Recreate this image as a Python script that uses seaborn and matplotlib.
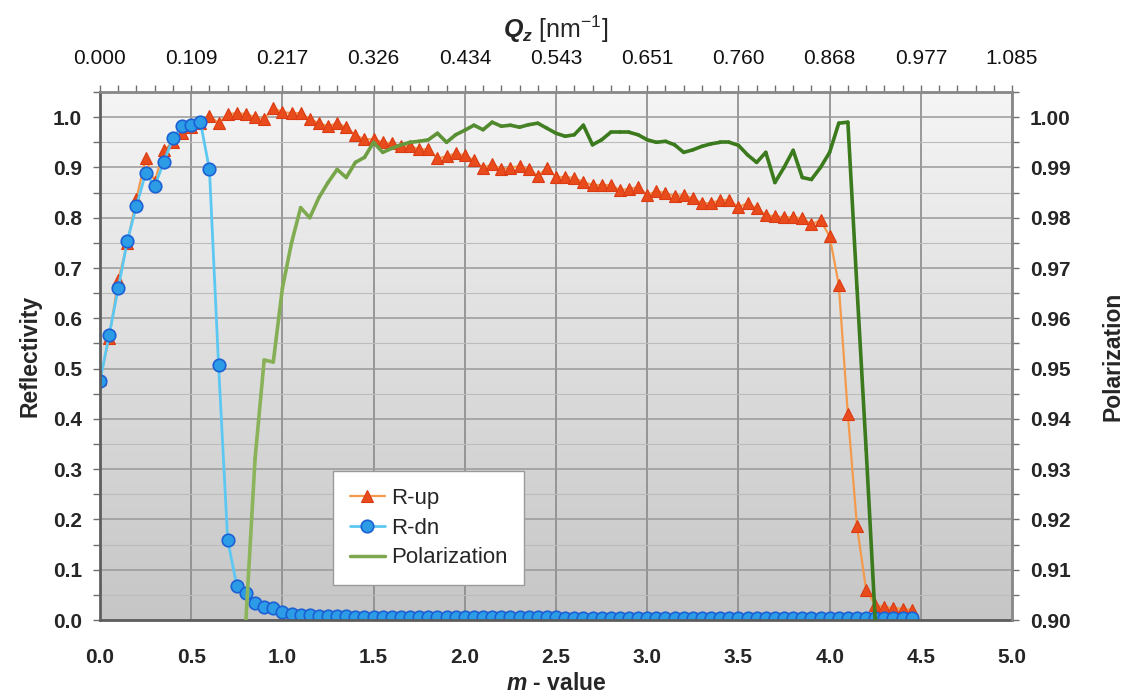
import numpy as np
import matplotlib
matplotlib.use("Agg")
import matplotlib.pyplot as plt
from matplotlib.collections import LineCollection
from matplotlib.colors import LinearSegmentedColormap
from matplotlib.lines import Line2D
from matplotlib.ticker import MultipleLocator
import seaborn as sns

# m-value grid (step 0.05)
m_values = [
    0.00, 0.05, 0.10, 0.15, 0.20, 0.25, 0.30, 0.35, 0.40, 0.45,
    0.50, 0.55, 0.60, 0.65, 0.70, 0.75, 0.80, 0.85, 0.90, 0.95,
    1.00, 1.05, 1.10, 1.15, 1.20, 1.25, 1.30, 1.35, 1.40, 1.45,
    1.50, 1.55, 1.60, 1.65, 1.70, 1.75, 1.80, 1.85, 1.90, 1.95,
    2.00, 2.05, 2.10, 2.15, 2.20, 2.25, 2.30, 2.35, 2.40, 2.45,
    2.50, 2.55, 2.60, 2.65, 2.70, 2.75, 2.80, 2.85, 2.90, 2.95,
    3.00, 3.05, 3.10, 3.15, 3.20, 3.25, 3.30, 3.35, 3.40, 3.45,
    3.50, 3.55, 3.60, 3.65, 3.70, 3.75, 3.80, 3.85, 3.90, 3.95,
    4.00, 4.05, 4.10, 4.15, 4.20, 4.25, 4.30, 4.35, 4.40, 4.45,
]

r_up = [
    0.480, 0.560, 0.676, 0.750, 0.838, 0.918, 0.872, 0.934, 0.950, 0.968,
    0.980, 0.988, 1.003, 0.988, 1.006, 1.008, 1.006, 1.000, 0.996, 1.018,
    1.010, 1.008, 1.008, 0.996, 0.988, 0.982, 0.988, 0.980, 0.964, 0.956,
    0.956, 0.950, 0.948, 0.942, 0.942, 0.936, 0.936, 0.918, 0.922, 0.928,
    0.924, 0.914, 0.899, 0.906, 0.897, 0.899, 0.903, 0.897, 0.883, 0.899,
    0.881, 0.881, 0.879, 0.871, 0.865, 0.865, 0.865, 0.855, 0.857, 0.861,
    0.845, 0.853, 0.849, 0.843, 0.845, 0.839, 0.829, 0.829, 0.835, 0.835,
    0.821, 0.829, 0.819, 0.805, 0.803, 0.801, 0.801, 0.799, 0.787, 0.795,
    0.763, 0.667, 0.409, 0.186, 0.060, 0.030, 0.026, 0.024, 0.022, 0.020,
]

r_dn = [
    0.475, 0.566, 0.660, 0.754, 0.824, 0.888, 0.863, 0.911, 0.958, 0.982,
    0.985, 0.991, 0.896, 0.507, 0.159, 0.068, 0.054, 0.034, 0.025, 0.024,
    0.015, 0.012, 0.010, 0.009, 0.008, 0.008, 0.007, 0.007, 0.006, 0.006,
    0.006, 0.006, 0.005, 0.005, 0.005, 0.005, 0.005, 0.005, 0.005, 0.005,
    0.005, 0.005, 0.005, 0.005, 0.005, 0.005, 0.005, 0.005, 0.005, 0.005,
    0.005, 0.004, 0.004, 0.004, 0.004, 0.004, 0.004, 0.004, 0.004, 0.004,
    0.004, 0.004, 0.004, 0.004, 0.004, 0.004, 0.004, 0.004, 0.004, 0.004,
    0.004, 0.004, 0.004, 0.004, 0.004, 0.004, 0.004, 0.004, 0.004, 0.004,
    0.004, 0.004, 0.004, 0.004, 0.004, 0.004, 0.004, 0.004, 0.004, 0.004,
]

# polarization is drawn from m = 0.80 to 4.25
m_pol = m_values[16:86]
polarization = [
    0.9000, 0.9320, 0.9517, 0.9513, 0.9660, 0.9750, 0.9820, 0.9800, 0.9840, 0.9870,
    0.9896, 0.9880, 0.9910, 0.9920, 0.9950, 0.9930, 0.9938, 0.9945, 0.9950, 0.9952,
    0.9955, 0.9968, 0.9950, 0.9965, 0.9974, 0.9984, 0.9975, 0.9990, 0.9982, 0.9984,
    0.9980, 0.9985, 0.9988, 0.9978, 0.9968, 0.9962, 0.9965, 0.9984, 0.9945, 0.9955,
    0.9970, 0.9970, 0.9970, 0.9965, 0.9955, 0.9950, 0.9952, 0.9945, 0.9930, 0.9935,
    0.9942, 0.9947, 0.9950, 0.9950, 0.9944, 0.9925, 0.9910, 0.9930, 0.9870, 0.9900,
    0.9934, 0.9880, 0.9876, 0.9900, 0.9930, 0.9988, 0.9990, 0.9660, 0.9340, 0.9000,
]

x_ticks = [0.0, 0.5, 1.0, 1.5, 2.0, 2.5, 3.0, 3.5, 4.0, 4.5, 5.0]
x_labels = ["0.0", "0.5", "1.0", "1.5", "2.0", "2.5", "3.0", "3.5", "4.0", "4.5", "5.0"]
qz_labels = ["0.000", "0.109", "0.217", "0.326", "0.434", "0.543",
             "0.651", "0.760", "0.868", "0.977", "1.085"]
refl_ticks = [0.0, 0.1, 0.2, 0.3, 0.4, 0.5, 0.6, 0.7, 0.8, 0.9, 1.0]
pol_ticks = [0.90, 0.91, 0.92, 0.93, 0.94, 0.95, 0.96, 0.97, 0.98, 0.99, 1.00]

sns.set_theme(style="white")
plt.rcParams["font.family"] = ["Liberation Sans", "DejaVu Sans"]
plt.rcParams["mathtext.fontset"] = "custom"
plt.rcParams["mathtext.it"] = "Liberation Sans:italic:bold"
plt.rcParams["mathtext.rm"] = "Liberation Sans"
plt.rcParams["mathtext.bf"] = "Liberation Sans:bold"

fig = plt.figure(figsize=(11.26, 6.95), dpi=100)
fig.patch.set_facecolor("white")
pos = [0.0888, 0.1079, 0.8100, 0.7597]

# gray gradient behind the plot
bg = fig.add_axes(pos, zorder=0)
shade = np.linspace(1, 0, 256).reshape(-1, 1)
bg.imshow(shade, cmap=LinearSegmentedColormap.from_list("bg", ["#c6c6c6", "#f5f5f5"]),
          aspect="auto", extent=[0, 1, 0, 1])
bg.axis("off")

ax = fig.add_axes(pos, zorder=1)
ax.patch.set_visible(False)

sns.lineplot(x=m_values, y=r_up, ax=ax, color="#f39a4c", lw=1.6, marker="^",
             markersize=8.5, markerfacecolor="#e84c1c", markeredgecolor="#dc3a12",
             markeredgewidth=0.8, label="R-up", legend=False)
sns.lineplot(x=m_values, y=r_dn, ax=ax, color="#5cc8f2", lw=2.0, marker="o",
             markersize=9, markerfacecolor="#2c9ce6", markeredgecolor="#1b60d4",
             markeredgewidth=1.2, label="R-dn", legend=False)

ax.set_xlim(0, 5)
ax.set_ylim(0, 1.05)
ax.set_xticks(x_ticks, labels=x_labels, fontsize=15, fontweight="bold")
ax.set_yticks(refl_ticks, labels=[f"{v:.1f}" for v in refl_ticks], fontsize=15, fontweight="bold")
ax.xaxis.set_minor_locator(MultipleLocator(0.1))
ax.yaxis.set_minor_locator(MultipleLocator(0.05))
ax.tick_params(axis="x", which="both", direction="out", length=5, width=1, color="#707070", pad=15)
ax.tick_params(axis="y", which="both", direction="out", length=5, width=1, color="#707070", pad=8)
ax.grid(which="major", axis="x", color="#8a8a8a", lw=1.2)
ax.grid(which="major", axis="y", color="#999999", lw=1.1)
ax.grid(which="minor", axis="y", color="#bcbcbc", lw=0.8)
ax.set_axisbelow(True)
for side in ["left", "bottom"]:
    ax.spines[side].set_color("#5e5e5e")
    ax.spines[side].set_linewidth(2)
for side in ["top", "right"]:
    ax.spines[side].set_color("#8a8a8a")
    ax.spines[side].set_linewidth(1.8)

ax.set_xlabel(r"$m$ - value", fontsize=16.5, fontweight="bold", labelpad=4)
ax.set_ylabel("Reflectivity", fontsize=16.5, fontweight="bold", labelpad=8)

# top axis in Q_z
top = ax.secondary_xaxis("top")
top.set_xticks(x_ticks, labels=qz_labels, fontsize=15)
top.xaxis.set_minor_locator(MultipleLocator(0.1))
top.tick_params(axis="x", which="both", direction="out", length=5, width=1, color="#707070",
                pad=12, labelcolor="#111111")
top.spines["top"].set_color("#8a8a8a")
top.spines["top"].set_linewidth(1.8)
top.set_xlabel(r"$Q_z$ [nm$^{-1}$]", fontsize=18, labelpad=8)

# right axis: polarization
ax2 = ax.twinx()
ax2.set_zorder(2)
ax2.set_ylim(0.90, 1.005)
ax2.set_yticks(pol_ticks, labels=[f"{v:.2f}" for v in pol_ticks], fontsize=15, fontweight="bold")
ax2.yaxis.set_minor_locator(MultipleLocator(0.005))
ax2.tick_params(axis="y", which="both", direction="out", length=5, width=1, color="#707070", pad=8)
for side in ["left", "top", "bottom"]:
    ax2.spines[side].set_visible(False)
ax2.spines["right"].set_color("#8a8a8a")
ax2.spines["right"].set_linewidth(1.8)
ax2.set_ylabel("Polarization", fontsize=16.5, fontweight="bold", labelpad=22)

pts = np.column_stack([m_pol, polarization])
segs = np.stack([pts[:-1], pts[1:]], axis=1)
lc = LineCollection(segs, cmap=LinearSegmentedColormap.from_list("pol", ["#8cb45a", "#3b7a1d"]),
                    norm=plt.Normalize(0.8, 2.6), linewidth=2.6, capstyle="round", joinstyle="round")
lc.set_array(np.array(m_pol[:-1]))
ax2.add_collection(lc)

handles = ax.get_lines()[:2] + [Line2D([], [], color="#7ea64e", lw=2.5)]
labels = ["R-up", "R-dn", "Polarization"]
ax2.legend(handles, labels, loc="lower left", bbox_to_anchor=(0.2555, 0.066), fontsize=16,
           frameon=True, fancybox=False, framealpha=1, facecolor="white", edgecolor="#9a9a9a",
           borderpad=0.75, labelspacing=0.4, handlelength=1.6, handletextpad=0.25,
           borderaxespad=0, numpoints=1)

fig.savefig("out.png", dpi=100)
